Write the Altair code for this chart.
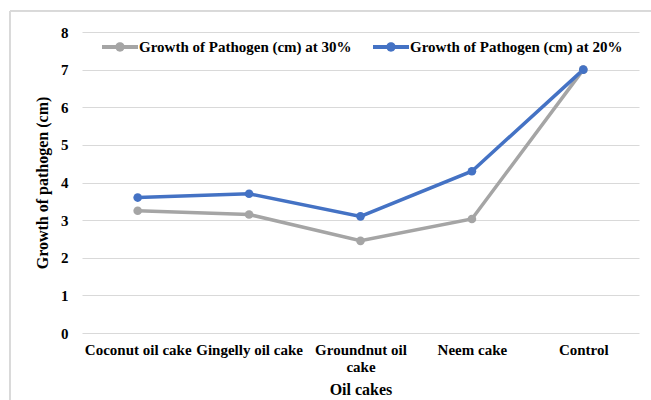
import altair as alt
import pandas as pd

# Oil cake treatments and pathogen growth readings (cm)
cakes = ["Coconut oil cake", "Gingelly oil cake", "Groundnut oil cake", "Neem cake", "Control"]
series_names = ["Growth of Pathogen (cm) at 30%", "Growth of Pathogen (cm) at 20%"]
growth_30 = [3.25, 3.15, 2.45, 3.03, 7.0]
growth_20 = [3.6, 3.7, 3.1, 4.3, 7.0]
series_colors = ["#A5A5A5", "#4472C4"]

rows = []
for name, values in zip(series_names, [growth_30, growth_20]):
    for cake, v in zip(cakes, values):
        rows.append({"cake": cake, "series": name, "growth": v})
df = pd.DataFrame(rows)

FONT = "Liberation Serif"
W, H = 557, 301
PAD_L, PAD_T = 82, 32

# line with a dot in the middle, for the legend symbols
legend_symbol = (
    "M-1,-0.11L1,-0.11L1,0.11L-1,0.11Z "
    "M0.26,0A0.26,0.26 0 1,1 -0.26,0A0.26,0.26 0 1,1 0.26,0Z"
)

x_enc = alt.X(
    "cake:N",
    sort=cakes,
    scale=alt.Scale(paddingInner=0, paddingOuter=0.5),
    axis=alt.Axis(
        title="Oil cakes",
        labelAngle=0,
        labelPadding=9,
        labelLineHeight=17,
        labelExpr="datum.value == 'Groundnut oil cake' ? ['Groundnut oil', 'cake'] : datum.value",
        ticks=False,
        domain=False,
        grid=False,
        titleY=56,
        titleBaseline="middle",
    ),
)

y_enc = alt.Y(
    "growth:Q",
    scale=alt.Scale(domain=[0, 8]),
    axis=alt.Axis(
        title="Growth of pathogen (cm)",
        values=list(range(0, 9)),
        labelPadding=14,
        ticks=False,
        domain=False,
        grid=True,
        gridColor="#D9D9D9",
        gridWidth=1,
        titleX=-40,
        titleY=H / 2,
        titleAlign="center",
        titleBaseline="middle",
        titleAngle=270,
    ),
)

color_scale = alt.Scale(domain=series_names, range=series_colors)
series_legend = alt.Legend(
    title=None,
    orient="none",
    legendX=20,
    legendY=-3,
    direction="horizontal",
    symbolType=legend_symbol,
    symbolSize=36 * 36,
    symbolStrokeWidth=0,
    symbolOpacity=1,
    labelOffset=1,
    labelLimit=400,
    columnPadding=21,
)
color_enc = alt.Color("series:N", scale=color_scale, legend=series_legend)

lines = alt.Chart(df).mark_line(strokeWidth=3.5).encode(x=x_enc, y=y_enc, color=color_enc)
points = alt.Chart(df).mark_point(filled=True, size=75, opacity=1).encode(
    x=x_enc, y=y_enc, color=color_enc
)

# thin frame around the chart area
frame_left = alt.Chart(df).mark_rule(color="#D9D9D9", strokeWidth=1).encode(
    x=alt.value(10 - PAD_L), y=alt.value(11 - PAD_T), y2=alt.value(400 - PAD_T)
)
frame_top = alt.Chart(df).mark_rule(color="#D9D9D9", strokeWidth=1).encode(
    x=alt.value(10 - PAD_L), x2=alt.value(651 - PAD_L), y=alt.value(11 - PAD_T)
)

chart = (
    alt.layer(frame_left, frame_top, lines, points)
    .properties(
        width=W,
        height=H,
        autosize=alt.AutoSizeParams(type="none"),
        padding={"left": PAD_L, "top": PAD_T, "right": 651 - PAD_L - W, "bottom": 400 - PAD_T - H},
        background="#FFFFFF",
    )
    .configure(font=FONT)
    .configure_view(stroke=None)
    .configure_axis(
        labelFont=FONT,
        labelFontSize=15,
        labelFontWeight="bold",
        labelColor="#000000",
        titleFont=FONT,
        titleFontSize=16,
        titleFontWeight="bold",
        titleColor="#000000",
    )
    .configure_legend(
        labelFont=FONT,
        labelFontSize=15,
        labelFontWeight="bold",
        labelColor="#000000",
    )
)

chart.save("out.html", embed_options={"renderer": "svg", "actions": False})
